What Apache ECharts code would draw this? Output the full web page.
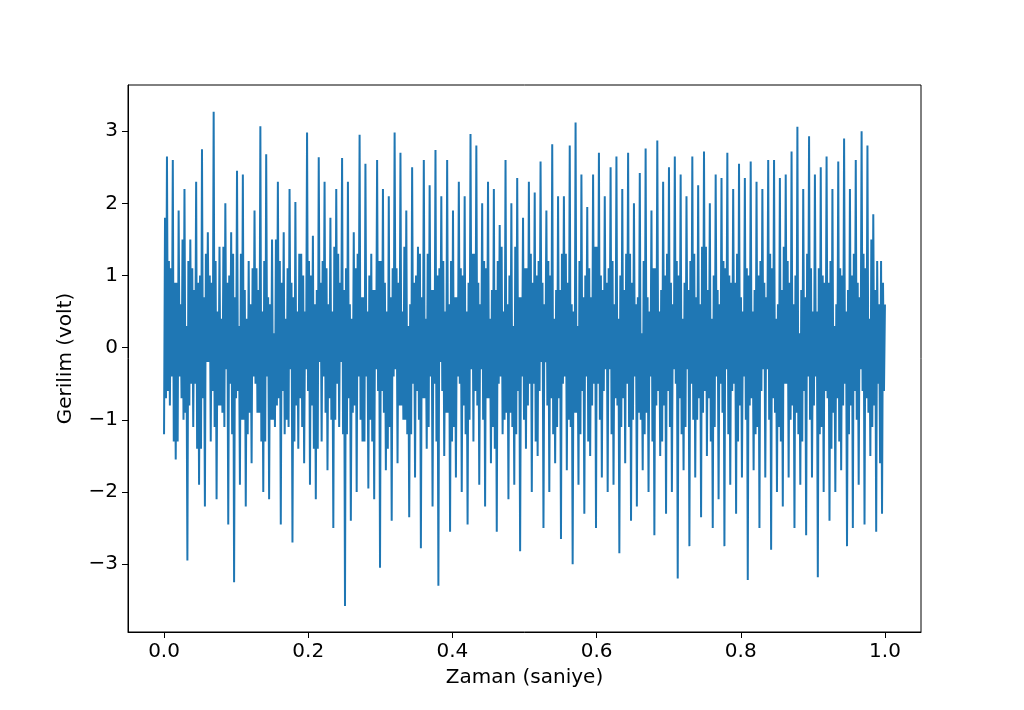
<!DOCTYPE html>
<html><head><meta charset="utf-8">
<script src="https://cdn.jsdelivr.net/npm/echarts@6/dist/echarts.min.js"></script>
<style>body{margin:0}#c{width:1024px;height:710px}</style></head>
<body><div id="c"></div>
<script>
// peak samples (volts), evenly spaced over 0..1 s
let peaks = [
 -1.2, 2.65, -0.8, 2.6, -1.55, 1.9, -0.7, 2.2, -2.95, 1.5, -1.1, 2.3, -1.9, 2.75, -2.2, 1.6, -1.3, 3.27, -2.1, 1.4,
 -0.9, 2.0, -2.45, 1.6, -3.25, 2.45, -1.9, 2.4, -2.2, 1.2, -1.6, 1.9, -0.9, 3.07, -2.0, 2.68, -2.1, 1.5, -1.1, 2.3,
 -2.45, 1.6, -1.0, 2.2, -2.7, 2.02, -1.4, 1.3, -1.6, 2.98, -1.9, 1.55, -2.1, 2.64, -1.3, 2.3, -1.7, 1.8, -2.5, 2.2,
 -1.1, 2.63, -3.58, 2.3, -2.4, 1.6, -2.0, 2.95, -1.3, 2.55, -1.95, 1.3, -2.1, 2.6, -3.05, 2.2, -1.7, 2.1, -2.4, 2.98,
 -1.6, 2.7, -1.0, 1.9, -2.35, 2.5, -1.8, 1.4, -2.78, 2.6, -1.4, 2.25, -2.2, 2.74, -3.3, 2.1, -1.5, 2.6, -2.55, 1.9,
 -1.8, 2.3, -2.0, 2.1, -2.45, 2.96, -1.3, 2.8, -1.9, 2.0, -2.2, 2.3, -1.6, 2.2, -2.55, 1.7, -1.2, 2.6, -2.1, 2.0,
 -1.9, 2.35, -2.82, 1.8, -1.4, 2.3, -2.0, 2.15, -1.5, 2.58, -2.5, 1.9, -2.0, 2.82, -1.6, 2.1, -2.65, 2.1, -1.7, 2.8,
 -3.0, 3.12, -1.9, 2.4, -2.3, 1.95, -1.5, 2.4, -2.5, 2.7, -1.8, 2.1, -2.0, 2.5, -1.9, 2.65, -2.85, 2.2, -1.6, 2.7,
 -2.4, 2.0, -2.2, 2.42, -1.7, 2.76, -2.0, 1.9, -2.6, 2.87, -1.5, 2.3, -2.3, 2.5, -2.0, 2.65, -3.2, 2.4, -1.7, 2.1,
 -2.75, 2.65, -1.8, 2.25, -2.35, 2.72, -1.5, 2.0, -2.5, 2.4, -2.1, 2.35, -2.75, 2.7, -1.9, 2.2, -2.3, 2.55, -1.8, 2.35,
 -3.22, 2.58, -1.7, 2.3, -2.5, 2.2, -1.8, 2.6, -2.8, 2.6, -2.0, 2.35, -2.2, 2.4, -1.8, 2.72, -2.5, 3.06, -1.9, 2.2,
 -2.6, 2.93, -1.8, 2.4, -3.18, 2.5, -2.0, 2.65, -2.4, 2.2, -2.0, 2.58, -1.7, 2.9, -2.75, 2.2, -2.5, 2.6, -1.9, 3.0,
 -2.45, 2.8, -1.5, 1.85, -2.55, 0.6, -2.3, 0.6
];
// first in-between sample after each peak (magnitude, swings against the peak)
let midsA = [
 1.8, 0.6, 1.1, 1.3, 0.9, 0.4, 1.5, 0.9, 1.2, 0.5, 0.8, 1.4, 1.0, 0.7, 1.3, 0.2, 0.9, 1.1, 0.5, 0.8,
 1.4, 0.3, 1.0, 1.2, 0.7, 0.6, 1.3, 1.0, 0.4, 0.9, 1.1, 0.5, 0.8, 1.3, 1.2, 0.4, 0.6, 1.0, 1.5, 0.7,
 0.9, 1.2, 1.1, 0.3, 0.7, 0.8, 1.3, 1.1, 0.5, 0.6, 1.0, 1.4, 0.8, 0.2, 1.2, 0.9, 0.6, 1.0, 1.4, 0.5,
 0.9, 1.2, 1.1, 0.7, 0.4, 0.8, 1.3, 1.0, 0.7, 0.4, 1.0, 1.3, 0.8, 0.6, 1.2, 0.9, 0.5, 1.1, 1.1, 0.3,
 0.9, 0.8, 1.4, 1.2, 0.6, 0.5, 1.0, 1.0, 0.7, 0.7, 1.3, 0.4, 0.8, 1.3, 1.1, 0.6, 0.5, 0.9, 1.2, 1.1,
 0.7, 0.5, 1.0, 1.2, 0.9, 0.3, 1.3, 0.8, 0.6, 1.0, 1.1, 0.7, 0.8, 1.4, 1.2, 0.4, 0.5, 0.9, 1.0, 1.1,
 1.4, 0.6, 0.7, 1.0, 1.1, 0.5, 0.9, 1.3, 1.2, 0.2, 0.6, 0.8, 1.0, 1.2, 0.8, 0.7, 1.3, 0.4, 0.9, 1.1,
 0.5, 0.9, 1.2, 0.6, 1.0, 1.3, 0.7, 0.5, 1.4, 1.0, 0.8, 0.3, 1.1, 1.2, 0.6, 0.8, 1.0, 0.7, 1.3, 1.1,
 0.9, 0.4, 0.7, 1.0, 1.2, 0.9, 0.5, 1.3, 1.1, 0.6, 0.8, 0.8, 1.3, 1.1, 0.6, 0.5, 1.0, 1.2, 0.9, 0.3,
 1.2, 1.0, 0.7, 0.7, 1.4, 0.6, 0.8, 1.3, 1.0, 0.4, 0.6, 0.9, 1.1, 1.2, 0.9, 0.5, 1.3, 0.8, 0.5, 1.0,
 1.0, 0.7, 0.8, 1.1, 1.2, 0.3, 0.7, 1.0, 1.1, 0.9, 0.6, 1.3, 1.4, 0.5, 0.9, 0.8, 1.0, 1.2, 0.8, 0.6,
 1.3, 1.0, 0.5, 0.4, 1.1, 1.1, 0.9, 0.7, 1.2, 0.9, 0.6, 1.3, 1.0, 0.5, 0.8, 0.8, 1.3, 1.0, 0.7, 0.6,
 1.1, 0.9, 1.5, 0.8, 1.2, 1.6, 0.9
];
// second in-between sample (magnitude, swings back with the peak)
let midsB = [
 0.7, 1.2, 0.4, 0.9, 1.3, 0.6, 1.0, 0.3, 0.8, 1.1, 0.5, 0.9, 1.4, 0.7, 0.2, 1.0, 0.6, 1.2, 0.8, 0.4,
 1.1, 0.9, 0.5, 1.3, 0.7, 0.3, 1.0, 0.8, 1.2, 0.6, 0.4, 1.1, 0.9, 0.5, 1.3, 0.7, 1.0, 0.2, 0.8, 1.2,
 0.6, 0.4, 1.1, 0.9, 1.3, 0.5, 0.7, 1.0, 0.3, 1.2, 0.8, 0.6, 1.4, 0.9, 0.4, 1.1, 0.7, 0.5, 1.0, 1.3,
 0.2, 0.8, 1.2, 0.6, 0.9, 1.1, 0.4, 0.7, 1.3, 0.5, 1.0, 0.8, 0.3, 1.2, 0.6, 0.9, 1.4, 0.7, 0.4, 1.1,
 0.8, 0.5, 1.0, 0.3, 1.2, 0.9, 0.6, 1.3, 0.7, 0.4, 1.1, 0.8, 0.5, 1.0, 0.2, 1.2, 0.9, 0.6, 1.3, 0.7,
 0.4, 1.1, 0.8, 0.5, 1.0, 1.3, 0.6, 0.9, 0.3, 1.2, 0.7, 0.4, 1.1, 0.8, 0.5, 1.4, 1.0, 0.6, 0.9, 0.3,
 1.2, 0.7, 0.4, 1.1, 0.8, 1.3, 0.5, 1.0, 0.6, 0.9, 0.2, 1.2, 0.7, 0.4, 1.1, 0.8, 0.5, 1.3, 1.0, 0.6,
 0.9, 0.3, 1.2, 0.7, 0.4, 1.1, 0.8, 1.4, 0.5, 1.0, 0.6, 0.9, 0.3, 1.2, 0.7, 0.4, 1.1, 0.8, 0.5, 1.3,
 1.0, 0.6, 0.9, 0.2, 1.2, 0.7, 0.4, 1.1, 0.8, 0.5, 1.3, 1.0, 0.6, 0.9, 0.3, 1.2, 0.7, 0.4, 1.1, 0.8,
 0.5, 1.3, 1.0, 0.6, 0.9, 1.4, 0.7, 0.4, 1.1, 0.8, 0.5, 1.2, 0.3, 1.0, 0.6, 0.9, 1.3, 0.7, 0.4, 1.1,
 0.8, 0.5, 1.2, 1.0, 0.6, 0.9, 0.3, 1.3, 0.7, 0.4, 1.1, 0.8, 0.5, 1.2, 1.0, 0.6, 0.9, 0.2, 1.3, 0.7,
 0.4, 1.1, 0.8, 0.5, 1.2, 1.0, 0.6, 0.9, 1.4, 0.3, 0.7, 1.1, 0.8, 0.5, 1.2, 1.0, 0.6, 0.9, 0.3, 1.3,
 0.7, 0.4, 1.1, 0.8, 0.5, 1.2, 0.6
];
let xTicks = [0, 0.2, 0.4, 0.6, 0.8, 1.0];
let yTicks = [-3, -2, -1, 0, 1, 2, 3];

let samples = [];
peaks.forEach((v, i) => {
    samples.push(v);
    if (i < peaks.length - 1) {
        let s = v < 0 ? -1 : 1;
        samples.push(-s * midsA[i]);
        samples.push(s * midsB[i]);
    }
});
let points = samples.map((v, i) => [i / (samples.length - 1), v]);

let axisText = { color: '#000', fontSize: 20, fontFamily: 'DejaVu Sans' };
let myChart = echarts.init(document.getElementById('c'));
myChart.setOption({
    animation: false,
    grid: { left: 128, top: 85, width: 793, height: 547, show: true, borderColor: '#000', borderWidth: 1 },
    xAxis: {
        type: 'value', min: -0.05, max: 1.05,
        name: 'Zaman (saniye)', nameLocation: 'middle', nameGap: 36, nameTextStyle: axisText,
        axisLine: { show: true, onZero: false, lineStyle: { color: '#000' } },
        axisTick: { show: true, length: 6, lineStyle: { color: '#000' }, customValues: xTicks },
        axisLabel: Object.assign({ margin: 10, customValues: xTicks, formatter: v => v.toFixed(1) }, axisText),
        splitLine: { show: false }
    },
    yAxis: {
        type: 'value', min: -3.94, max: 3.64,
        name: 'Gerilim (volt)', nameLocation: 'middle', nameGap: 52, nameTextStyle: axisText,
        axisLine: { show: true, onZero: false, lineStyle: { color: '#000' } },
        axisTick: { show: true, length: 6, lineStyle: { color: '#000' }, customValues: yTicks },
        axisLabel: Object.assign({ margin: 10, customValues: yTicks,
            formatter: v => v < 0 ? '\u2212' + Math.abs(v) : '' + v }, axisText),
        splitLine: { show: false }
    },
    series: [{
        type: 'line', data: points, showSymbol: false,
        lineStyle: { color: '#1f77b4', width: 2 }
    }]
});
</script></body></html>
